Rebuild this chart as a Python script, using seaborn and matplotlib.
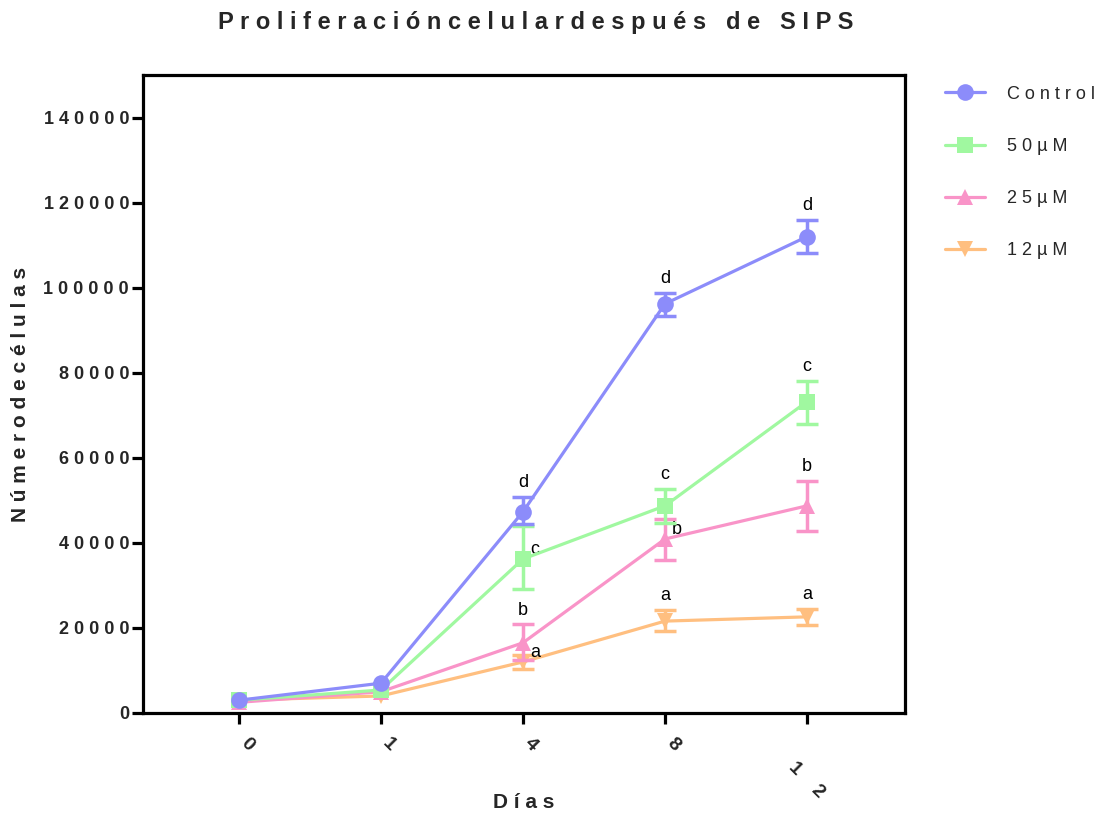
import matplotlib
matplotlib.use("Agg")
import matplotlib.pyplot as plt
import matplotlib.transforms as mtransforms
import seaborn as sns
import numpy as np
import pandas as pd
from matplotlib.ticker import FuncFormatter, MultipleLocator

# ---- data ----
days = ["0", "1", "4", "8", "12"]
series_names = ["Control", "50 µM", "25 µM", "12 µM"]
control_mean = [3000, 7000, 47300, 96200, 112000]
control_low = [3000, 7000, 44500, 93400, 108200]
control_high = [3000, 7000, 50800, 98800, 116000]
m50_mean = [3000, 5400, 36200, 48700, 73200]
m50_low = [3000, 5400, 29200, 44700, 68000]
m50_high = [3000, 5400, 44000, 52700, 78100]
m25_mean = [2500, 5000, 16500, 40900, 48700]
m25_low = [2500, 5000, 12500, 36000, 42800]
m25_high = [2500, 5000, 20900, 45600, 54600]
m12_mean = [3000, 4000, 12000, 21600, 22600]
m12_low = [3000, 4000, 10400, 19300, 20700]
m12_high = [3000, 4000, 13600, 24200, 24500]
control_letters = ["", "", "d", "d", "d"]
m50_letters = ["", "", "c", "c", "c"]
m25_letters = ["", "", "b", "b", "b"]
m12_letters = ["", "", "a", "a", "a"]
# letter placement: "u" above error bar, "r" right of marker
control_place = ["u", "u", "u", "u", "u"]
m50_place = ["u", "u", "r", "u", "u"]
m25_place = ["u", "u", "u", "r", "u"]
m12_place = ["u", "u", "r", "u", "u"]

colors = ["#8c8cfa", "#a0f8a0", "#f994c8", "#ffbf80"]
markers = ["o", "s", "^", "v"]

means = [control_mean, m50_mean, m25_mean, m12_mean]
lows = [control_low, m50_low, m25_low, m12_low]
highs = [control_high, m50_high, m25_high, m12_high]
letters = [control_letters, m50_letters, m25_letters, m12_letters]
places = [control_place, m50_place, m25_place, m12_place]

sns.set_theme(style="white")
plt.rcParams["font.family"] = ["Liberation Sans", "DejaVu Sans"]

fig = plt.figure(figsize=(11.04, 8.18), dpi=100)
ax = fig.add_axes([0.1295, 0.1284, 0.6902, 0.7799])

def spaced(s):
    return " ".join(list(s.replace(" ", "")))

xpos = np.arange(len(days))
rows = []
for name, m in zip(series_names, means):
    for i, v in enumerate(m):
        rows.append({"x": i, "y": v, "serie": spaced(name)})
df = pd.DataFrame(rows)

order_draw = list(range(len(series_names)))[::-1]
for k in order_draw:
    m = np.array(means[k]); lo = np.array(lows[k]); hi = np.array(highs[k])
    sel = (hi > m) | (lo < m)
    ax.errorbar(xpos[sel], m[sel], yerr=[(m - lo)[sel], (hi - m)[sel]], fmt="none",
                ecolor=colors[k], elinewidth=2.5, capsize=8, capthick=2.5,
                zorder=2 + (3 - k))
    sub = df[df["serie"] == spaced(series_names[k])]
    sns.lineplot(data=sub, x="x", y="y", ax=ax, color=colors[k], marker=markers[k],
                 markersize=12, markeredgewidth=0, linewidth=2.3,
                 label=spaced(series_names[k]), zorder=3 + (3 - k), legend=False)
    for i in range(len(days)):
        if letters[k][i]:
            if places[k][i] == "u":
                ax.annotate(letters[k][i], (xpos[i], hi[i]), xytext=(0, 4),
                            textcoords="offset points", ha="center", va="bottom",
                            fontsize=13, color="black")
            else:
                ax.annotate(letters[k][i], (xpos[i], m[i]), xytext=(5, 1),
                            textcoords="offset points", ha="left", va="bottom",
                            fontsize=13, color="black")

ax.set_xlim(-0.676, 4.69)
ax.set_ylim(0, 150000)
ax.yaxis.set_major_locator(MultipleLocator(20000))
ax.yaxis.set_major_formatter(FuncFormatter(lambda v, p: spaced(f"{int(v)}")))
ax.set_xticks(xpos)
ax.set_xticklabels(["0", "1", "4", "8", "1    2"], rotation=-45, ha="center", va="center",
                   fontsize=14, fontweight="bold")
for lab in ax.get_yticklabels():
    lab.set_fontweight("bold")
    lab.set_fontsize(13)

for s in ax.spines.values():
    s.set_visible(True)
    s.set_linewidth(2.3)
    s.set_color("black")
ax.tick_params(axis="both", direction="out", length=8, width=2.3, color="black",
               left=True, bottom=True)
ax.tick_params(axis="y", pad=2)
ax.tick_params(axis="x", pad=15)

for i, lab in enumerate(ax.get_xticklabels()):
    if i == len(days) - 1:
        off = mtransforms.ScaledTranslation(-1 / 100, -35 / 100, fig.dpi_scale_trans)
    else:
        off = mtransforms.ScaledTranslation(8 / 100, 0, fig.dpi_scale_trans)
    lab.set_transform(lab.get_transform() + off)

ax.set_xlabel("D í a s", fontsize=15, fontweight="bold")
ax.xaxis.set_label_coords(0.5, -0.125)
ax.set_ylabel("N ú m e r o d e c é l u l a s", fontsize=15, fontweight="bold", labelpad=10)
fig.text(0.485, 0.972, "P r o l i f e r a c i ó n c e l u l a r d e s p u é s   d e   S I P S",
         ha="center", va="center", fontsize=17, fontweight="bold")

handles, labels_ = ax.get_legend_handles_labels()
hmap = dict(zip(labels_, handles))
order = [spaced(n) for n in series_names]
leg = fig.legend([hmap[o] for o in order], order, loc="upper left",
                 bbox_to_anchor=(0.8415, 0.915), frameon=False, fontsize=13,
                 handlelength=2.2, labelspacing=1.95, handletextpad=1.2)

fig.savefig("out.png", dpi=100)
